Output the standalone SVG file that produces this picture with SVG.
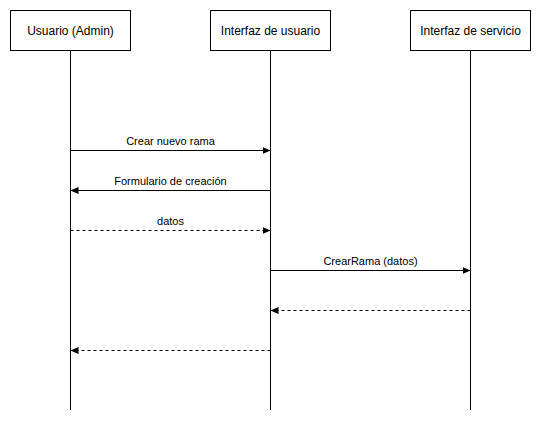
<svg xmlns="http://www.w3.org/2000/svg" width="541" height="423" viewBox="0 0 541 423">
<defs>
<marker id="ah" markerWidth="8" markerHeight="8" refX="8" refY="4" orient="auto" markerUnits="userSpaceOnUse">
<path d="M0,0.5 L8,4 L0,7.5 Z" fill="#000"/>
</marker>
<style>
.box{fill:#fff;stroke:#000;stroke-width:1}
.life{stroke:#000;stroke-width:1;fill:none}
.msg{stroke:#000;stroke-width:1;fill:none;marker-end:url(#ah)}
.dash{stroke-dasharray:3,3}
.t{font-family:"Liberation Sans",Arial,sans-serif;font-size:12px;fill:#000;text-anchor:middle}
.l{font-family:"Liberation Sans",Arial,sans-serif;font-size:11px;fill:#000;text-anchor:middle}
</style>
</defs>
<rect width="541" height="423" fill="#fff"/>
<g id="usuario">
<rect class="box" x="10.5" y="10.5" width="120" height="40"/>
<line class="life" x1="70.5" y1="50.5" x2="70.5" y2="410"/>
<text class="t" x="70.5" y="35">Usuario (Admin)</text>
</g>
<g id="interfaz-usuario">
<rect class="box" x="210.5" y="10.5" width="120" height="40"/>
<line class="life" x1="270.5" y1="50.5" x2="270.5" y2="410"/>
<text class="t" x="270.5" y="35">Interfaz de usuario</text>
</g>
<g id="interfaz-servicio">
<rect class="box" x="410.5" y="10.5" width="120" height="40"/>
<line class="life" x1="470.5" y1="50.5" x2="470.5" y2="410"/>
<text class="t" x="470.5" y="35">Interfaz de servicio</text>
</g>
<g id="connectors">
<line class="msg" x1="70.5" y1="150.5" x2="270.5" y2="150.5"/>
<text class="l" x="170.5" y="145">Crear nuevo rama</text>
<line class="msg" x1="270.5" y1="190.5" x2="70.5" y2="190.5"/>
<text class="l" x="170.5" y="185">Formulario de creación</text>
<line class="msg dash" x1="70.5" y1="230.5" x2="270.5" y2="230.5"/>
<text class="l" x="170.5" y="225">datos</text>
<line class="msg" x1="270.5" y1="270.5" x2="470.5" y2="270.5"/>
<text class="l" x="370.5" y="265">CrearRama (datos)</text>
<line class="msg dash" x1="470.5" y1="310.5" x2="270.5" y2="310.5"/>
<line class="msg dash" x1="270.5" y1="350.5" x2="70.5" y2="350.5"/>
</g>
</svg>
